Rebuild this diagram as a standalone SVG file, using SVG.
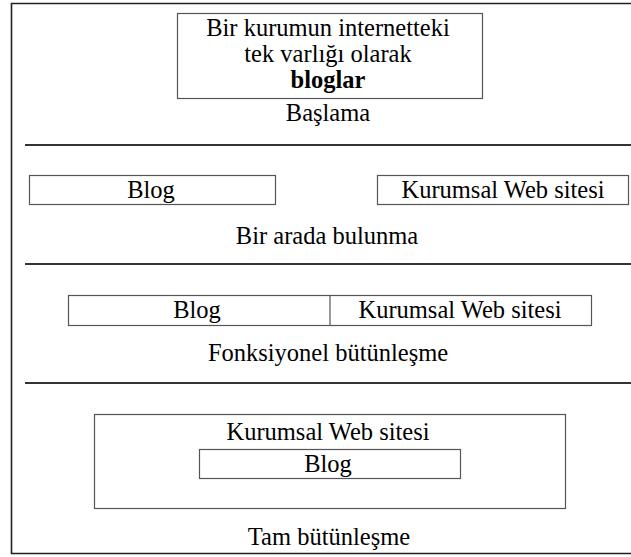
<svg xmlns="http://www.w3.org/2000/svg" width="631" height="557" viewBox="0 0 631 557">
<style>
.bg{fill:#ffffff}
.frame{fill:none;stroke:#222;stroke-width:1.6}
.box{fill:#ffffff;stroke:#555;stroke-width:1.2}
.div{stroke:#555;stroke-width:1.2}
.sep{stroke:#333;stroke-width:2}
.t{font-family:'Liberation Serif','Times New Roman',serif;font-size:24.5px;fill:#000;text-anchor:middle}
.b{font-weight:bold}
</style>
<rect class="bg" x="0" y="0" width="631" height="557"/>
<path class="frame" d="M640,3.5 H11.5 V553.5 H640"/>
<g id="separators">
<line class="sep" x1="25" y1="145" x2="640" y2="145"/>
<line class="sep" x1="25" y1="264" x2="640" y2="264"/>
<line class="sep" x1="25" y1="383" x2="640" y2="383"/>
</g>
<g id="stage1">
<rect class="box" x="177.5" y="13.5" width="305" height="85"/>
<text class="t" x="328" y="36">Bir kurumun internetteki</text>
<text class="t" x="328" y="62">tek varlığı olarak</text>
<text class="t b" x="328" y="88">bloglar</text>
<text class="t" x="328" y="121">Başlama</text>
</g>
<g id="stage2">
<rect class="box" x="29.5" y="175.5" width="246" height="29"/>
<text class="t" x="151" y="198">Blog</text>
<rect class="box" x="377.5" y="175.5" width="251" height="29"/>
<text class="t" x="503" y="198">Kurumsal Web sitesi</text>
<text class="t" x="327" y="244">Bir arada bulunma</text>
</g>
<g id="stage3">
<rect class="box" x="68.5" y="295.5" width="523" height="30"/>
<line class="div" x1="330" y1="295.5" x2="330" y2="325.5"/>
<text class="t" x="197" y="318">Blog</text>
<text class="t" x="460" y="318">Kurumsal Web sitesi</text>
<text class="t" x="328" y="361">Fonksiyonel bütünleşme</text>
</g>
<g id="stage4">
<rect class="box" x="94.5" y="414.5" width="471" height="94"/>
<text class="t" x="328" y="440">Kurumsal Web sitesi</text>
<rect class="box" x="199.5" y="449.5" width="261" height="29"/>
<text class="t" x="328" y="472">Blog</text>
<text class="t" x="329" y="545">Tam bütünleşme</text>
</g>
</svg>
